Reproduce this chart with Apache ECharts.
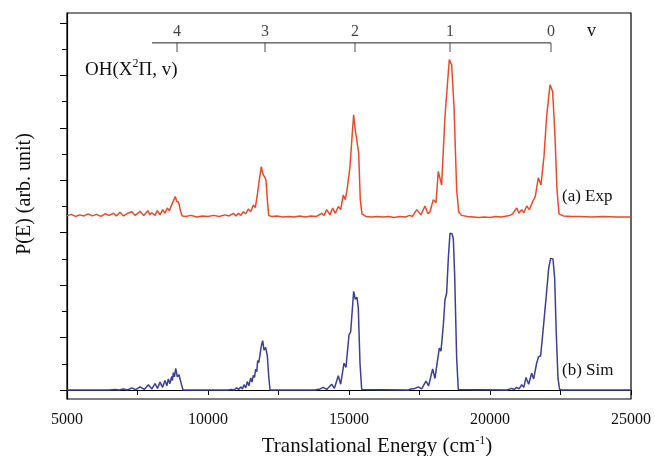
<!DOCTYPE html>
<html>
<head>
<meta charset="utf-8">
<script src="https://cdn.jsdelivr.net/npm/echarts@6/dist/echarts.min.js"></script>
<style>
html, body { margin: 0; padding: 0; background: #fff; }
#box1 { width: 655px; height: 456px; }
</style>
</head>
<body>
<div id="box1"></div>
<script>
/* P(E) spectra, exp (a) and sim (b) */
var expData = [
    [5000,3.32],[5150,3.35],[5300,3.31],[5450,3.34],[5600,3.32],[5750,3.36],[5900,3.32],[6050,3.35],
    [6200,3.31],[6350,3.36],[6500,3.33],[6650,3.37],[6750,3.32],[6880,3.39],[7000,3.32],[7150,3.37],
    [7300,3.40],[7420,3.33],[7590,3.41],[7720,3.33],[7870,3.42],[7940,3.34],[8003,3.38],[8121,3.33],
    [8203,3.42],[8298,3.34],[8393,3.44],[8475,3.37],[8557,3.47],[8629,3.42],[8712,3.53],[8794,3.63],
    [8841,3.69],[8889,3.60],[8960,3.58],[9031,3.40],[9090,3.32],[9200,3.31],[9400,3.33],[9600,3.30],
    [9800,3.32],[10000,3.31],[10200,3.33],[10400,3.31],[10600,3.34],[10750,3.32],[10897,3.37],[10993,3.32],
    [11075,3.37],[11160,3.33],[11253,3.40],[11335,3.36],[11430,3.45],[11513,3.40],[11607,3.53],[11678,3.48],
    [11749,3.72],[11820,4.01],[11891,4.26],[11938,4.13],[11997,4.12],[12057,4.01],[12104,3.63],[12151,3.33],
    [12250,3.31],[12450,3.32],[12650,3.30],[12850,3.31],[13050,3.30],[13250,3.32],[13450,3.30],[13650,3.32],
    [13850,3.31],[14031,3.37],[14120,3.33],[14208,3.44],[14326,3.34],[14421,3.47],[14515,3.37],[14621,3.50],
    [14704,3.44],[14798,3.72],[14869,3.63],[14940,3.85],[15035,4.26],[15117,4.90],[15165,5.25],[15223,4.96],
    [15283,4.99],[15343,4.52],[15400,3.63],[15460,3.36],[15600,3.31],[15800,3.30],[16000,3.31],[16200,3.30],
    [16400,3.31],[16600,3.29],[16800,3.31],[17000,3.30],[17150,3.33],[17250,3.31],[17400,3.44],[17550,3.34],
    [17694,3.51],[17800,3.36],[17872,3.40],[17990,3.63],[18085,3.57],[18166,4.17],[18285,3.91],[18404,5.22],
    [18557,6.30],[18640,6.20],[18723,5.41],[18818,3.82],[18889,3.40],[18990,3.33],[19200,3.31],[19400,3.30],
    [19600,3.29],[19800,3.30],[20000,3.29],[20200,3.31],[20400,3.30],[20600,3.32],[20709,3.33],[20800,3.36],
    [20946,3.47],[21030,3.37],[21123,3.44],[21200,3.38],[21300,3.51],[21394,3.44],[21512,3.59],[21606,3.69],
    [21713,4.05],[21808,3.91],[21914,4.45],[22009,5.22],[22127,5.82],[22222,5.69],[22305,4.83],[22376,3.82],
    [22447,3.36],[22600,3.32],[22900,3.31],[23200,3.31],[23600,3.30],[24000,3.31],[24500,3.30],[25000,3.30]
];
var simData = [
    [5000,0],[6500,0],[6700,0.01],[6850,0],[6997,0.02],[7150,0],[7293,0.04],[7440,0.005],
    [7589,0.06],[7740,0.01],[7884,0.10],[8010,0.02],[8121,0.12],[8210,0.03],[8298,0.15],[8390,0.05],
    [8475,0.18],[8540,0.08],[8593,0.21],[8650,0.12],[8712,0.26],[8740,0.18],[8770,0.33],[8810,0.25],
    [8855,0.41],[8911,0.25],[8971,0.29],[9042,0.14],[9113,0],[10700,0],[10840,0.01],[10930,0],
    [11017,0.04],[11090,0.01],[11159,0.06],[11220,0.02],[11276,0.10],[11340,0.04],[11394,0.16],[11450,0.08],
    [11514,0.23],[11560,0.15],[11606,0.28],[11650,0.24],[11691,0.40],[11730,0.35],[11762,0.56],[11800,0.52],
    [11833,0.63],[11890,0.84],[11938,0.94],[11986,0.76],[12045,0.81],[12104,0.65],[12152,0.27],[12198,0],
    [13800,0],[13972,0.02],[14030,0],[14090,0.05],[14208,0.01],[14385,0.11],[14480,0.03],[14621,0.27],
    [14704,0.11],[14822,0.51],[14893,0.43],[15000,1.05],[15059,1.11],[15117,1.53],[15165,1.88],[15223,1.73],
    [15283,1.77],[15330,1.56],[15390,0.51],[15450,0.01],[15500,0],[17100,0],[17200,0.02],[17270,0],
    [17340,0.03],[17400,0.01],[17458,0.06],[17576,0.02],[17730,0.17],[17824,0.08],[17966,0.40],[18049,0.22],
    [18132,0.54],[18203,0.80],[18262,0.74],[18345,1.24],[18404,1.72],[18463,1.85],[18522,2.51],[18581,2.99],
    [18652,2.98],[18699,2.89],[18747,2.19],[18818,0.60],[18876,0.01],[18936,0],[20600,0],[20768,0.03],
    [20860,0.01],[20946,0.05],[21030,0.02],[21123,0.10],[21200,0.05],[21276,0.24],[21370,0.11],[21477,0.32],
    [21548,0.21],[21654,0.51],[21725,0.64],[21796,0.65],[21867,1.05],[21938,1.46],[22009,1.88],[22080,2.32],
    [22151,2.51],[22233,2.50],[22293,2.13],[22352,1.05],[22411,0.22],[22470,0.01],[22550,0],[25000,0]
];
// vibrational levels shown on the top scale
var vLabels = ['0', '1', '2', '3', '4'];
var vEnergy = [22163, 18582, 15213, 12021, 8901];
var vScaleStart = 8014;
var vScaleY = 6.62;
// axis ticks
var xTicks = [5000, 10000, 15000, 20000, 25000];
var yMajorTicks = [0, 1, 2, 3, 4, 5, 6, 7];
var yMinorTicks = [0.5, 1.5, 2.5, 3.5, 4.5, 5.5, 6.5];

var serif = 'Liberation Serif';
var dom = document.getElementById("box1");
var myChart = echarts.init(dom);

var scaleLine = [[vScaleStart, vScaleY], [vEnergy[0], vScaleY]];
var scaleTicks = vEnergy.map(function (e) { return [e, vScaleY]; });

option = {
    animation: false,
    backgroundColor: '#fff',
    grid: {
        left: 67, right: 24, top: 13, bottom: 57, outerBoundsMode: 'none', containLabel: false,
        show: true, borderColor: '#000', borderWidth: 1.2
    },
    xAxis: {
        type: 'value', min: xTicks[0], max: xTicks[xTicks.length - 1], interval: 5000,
        axisLine: { lineStyle: { color: '#000', width: 1.2 } },
        axisTick: { length: 5, lineStyle: { color: '#000' } },
        minorTick: { show: true, splitNumber: 2, length: 5, lineStyle: { color: '#000' } },
        splitLine: { show: false },
        axisLabel: {
            fontFamily: serif, fontSize: 16, color: '#111', margin: 13,
            formatter: function (v) { return String(v); }
        },
        name: 'Translational Energy (cm{s|-1})',
        nameLocation: 'middle', nameGap: 36,
        nameTextStyle: {
            fontFamily: serif, fontSize: 21, color: '#111', padding: [0, 0, 0, 56],
            rich: { s: { fontFamily: serif, fontSize: 12, padding: [0, 0, 11, 0] } }
        }
    },
    yAxis: [{
        type: 'value', min: -0.172, max: 7.19,
        axisLine: { show: true, lineStyle: { color: '#000', width: 1.2 } },
        axisTick: { show: true, customValues: yMajorTicks, length: 7, lineStyle: { color: '#000' } },
        axisLabel: { show: false },
        splitLine: { show: false }
    }, {
        type: 'value', min: -0.172, max: 7.19, position: 'left',
        axisLine: { show: false },
        axisTick: { show: true, customValues: yMinorTicks, length: 5, lineStyle: { color: '#000' } },
        axisLabel: { show: false },
        splitLine: { show: false }
    }],
    graphic: [
        { type: 'text', x: 25, y: 194, rotation: Math.PI / 2,
          style: { text: 'P(E) (arb. unit)', fontFamily: serif, fontSize: 20, fill: '#111', align: 'center', verticalAlign: 'middle' } },
        { type: 'text', left: 85, top: 58,
          style: { text: 'OH(X{s|2}Π, v)', fontFamily: serif, fontSize: 19, fill: '#111',
                   rich: { s: { fontFamily: serif, fontSize: 12, padding: [0, 0, 13, 0] } } } },
        { type: 'text', left: 587, top: 22,
          style: { text: 'v', fontFamily: serif, fontSize: 18, fill: '#111' } },
        { type: 'text', left: 562, top: 188,
          style: { text: '(a) Exp', fontFamily: serif, fontSize: 17, fill: '#111' } },
        { type: 'text', left: 562, top: 362,
          style: { text: '(b) Sim', fontFamily: serif, fontSize: 17, fill: '#111' } }
    ],
    series: [
        {
            name: 'Exp', type: 'line', data: expData, showSymbol: false, symbol: 'none',
            lineStyle: { color: '#e9492c', width: 1.5 }, silent: true
        },
        {
            name: 'Sim', type: 'line', data: simData, showSymbol: false, symbol: 'none',
            lineStyle: { color: '#3d3f96', width: 1.5 }, silent: true
        },
        {
            name: 'scale', type: 'line', data: scaleLine, symbol: 'none',
            lineStyle: { color: '#222', width: 1 }, silent: true
        },
        {
            name: 'levels', type: 'scatter', data: scaleTicks, symbol: 'rect',
            symbolSize: [1, 9], symbolOffset: [0, 4.5], silent: true,
            itemStyle: { color: '#222' },
            label: {
                show: true, position: 'top', distance: 3,
                fontFamily: serif, fontSize: 16, color: '#111',
                formatter: function (p) { return vLabels[p.dataIndex]; }
            }
        }
    ]
};

if (option && typeof option === "object") {
    myChart.setOption(option, true);
}
</script>
</body>
</html>
